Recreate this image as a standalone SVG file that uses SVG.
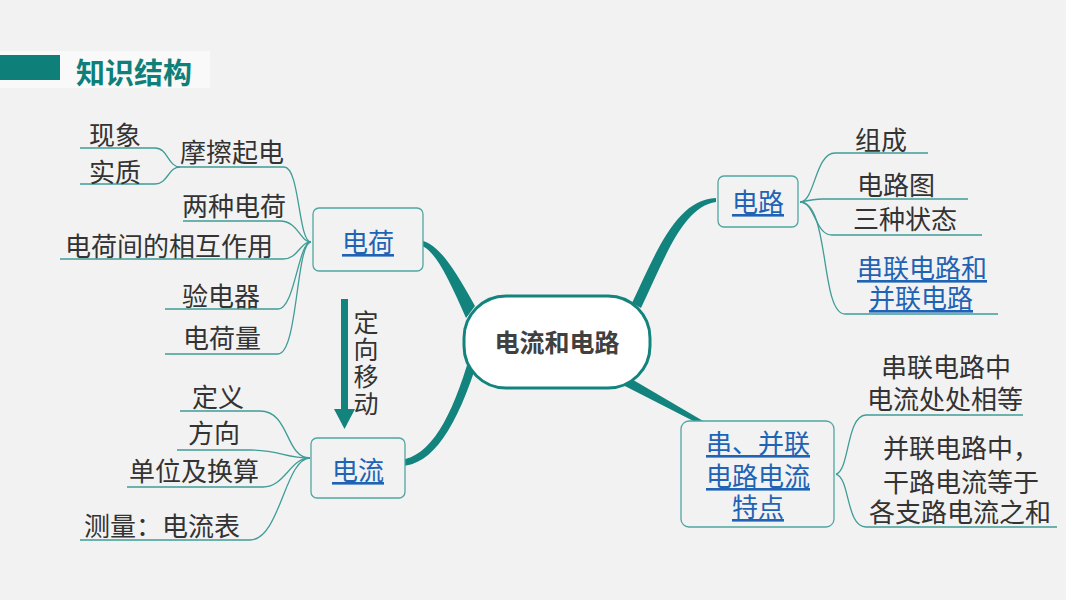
<svg xmlns="http://www.w3.org/2000/svg" width="1066" height="600" viewBox="0 0 1066 600">
<style>
.t{font-family:"Liberation Sans","Noto Sans CJK SC",sans-serif;font-size:26px;fill:#333333}
.lk{font-family:"Liberation Sans","Noto Sans CJK SC",sans-serif;font-size:26px;fill:#1f63b5;text-decoration:underline}
.box{fill:#f2f2f2;stroke:#4fa6a1;stroke-width:1.3}
.leaf{fill:none;stroke:#3f9c97;stroke-width:1.3}
.br{fill:#13837e;stroke:none}
</style>
<rect width="1066" height="600" fill="#f2f2f2"/>
<g id="title">
<rect x="0" y="51" width="210" height="37" fill="#f9f9f9"/>
<rect x="0" y="55" width="60" height="25" fill="#0f7f7a"/>
<text x="76" y="84" style="font-family:'Noto Sans CJK SC',sans-serif;font-size:29px;font-weight:bold;fill:#0f7f7a">知识结构</text>
</g>
<g id="connectors">
<path class="br" d="M417,240 C434,240 450,260 475,306 L466,318 C446,272 432,245 417,245 Z"/>
<path class="br" d="M400,460 C430,457 452,418 470,355 L478,360 C457,426 433,466 400,466 Z"/>
<path class="br" d="M632,303 C655,255 676,199 716,198 L716,202 C683,206 664,260 641,308 Z"/>
<path class="br" d="M623,374 L710,425 L709,429 L619,383 Z"/>
<circle class="br" cx="622" cy="379" r="5"/>
<path class="leaf" d="M80,148 L155,148 C168,148 168,167 180,167"/>
<path class="leaf" d="M80,184 L155,184 C168,184 168,167 180,167"/>
<path class="leaf" d="M180,167 L284,167 C300,167 298,242 311,242"/>
<path class="leaf" d="M183,221 L280,221 C298,221 300,242 311,242"/>
<path class="leaf" d="M60,259 L283,259 C298,259 300,242 311,242"/>
<path class="leaf" d="M165,309 L278,309 C295,309 298,242 311,242"/>
<path class="leaf" d="M165,354 L278,354 C298,354 296,242 311,242"/>
<path class="leaf" d="M180,411 L260,411 C290,411 285,458 310,458"/>
<path class="leaf" d="M177,450 L250,450 C280,450 285,458 310,458"/>
<path class="leaf" d="M127,487 L263,487 C285,487 290,458 310,458"/>
<path class="leaf" d="M80,540 L250,540 C280,540 285,458 310,458"/>
<path class="leaf" d="M800,202 C815,202 815,153 835,153 L928,153"/>
<path class="leaf" d="M800,202 C810,200 815,199 822,199 L968,199"/>
<path class="leaf" d="M800,202 C815,202 815,235 832,235 L982,235"/>
<path class="leaf" d="M800,202 C830,202 820,314 845,314 L998,314"/>
<path class="leaf" d="M836,474 C850,470 846,416 866,415 L1023,415"/>
<path class="leaf" d="M836,474 C850,478 846,527 866,527 L1057,527"/>
<rect x="341" y="299" width="7" height="112" fill="#13837e"/>
<polygon points="334,409 355,409 344.5,429" fill="#13837e"/>
</g>
<g id="center">
<rect x="464" y="296" width="186" height="92" rx="42" fill="#ffffff" stroke="#13837e" stroke-width="3"/>
<text x="557" y="352" text-anchor="middle" style="font-family:'Noto Sans CJK SC',sans-serif;font-size:25px;font-weight:bold;fill:#404040">电流和电路</text>
</g>
<g id="node-dianhe">
<rect class="box" x="313" y="208" width="110" height="63" rx="6"/>
<text class="lk" x="368" y="252" text-anchor="middle">电荷</text>
</g>
<g id="node-dianliu">
<rect class="box" x="311" y="438" width="94" height="60" rx="6"/>
<text class="lk" x="358" y="480" text-anchor="middle">电流</text>
</g>
<g id="node-dianlu">
<rect class="box" x="718" y="176" width="80" height="51" rx="6"/>
<text class="lk" x="758" y="212" text-anchor="middle">电路</text>
</g>
<g id="node-tedian">
<rect class="box" x="681" y="421" width="153" height="106" rx="8"/>
<text class="lk" text-anchor="middle"><tspan x="758" y="453">串、并联</tspan><tspan x="758" y="486">电路电流</tspan><tspan x="758" y="517">特点</tspan></text>
</g>
<g id="arrow-label">
<text x="366" y="310" style="font-family:'Noto Sans CJK SC',sans-serif;fill:#333333;font-size:25px;writing-mode:vertical-rl;letter-spacing:2px">定向移动</text>
</g>
<g id="leaves-dianhe">
<text class="t" x="89" y="145">现象</text>
<text class="t" x="89" y="182">实质</text>
<text class="t" x="180" y="162">摩擦起电</text>
<text class="t" x="182" y="216">两种电荷</text>
<text class="t" x="65" y="256">电荷间的相互作用</text>
<text class="t" x="182" y="306">验电器</text>
<text class="t" x="183" y="348">电荷量</text>
</g>
<g id="leaves-dianliu">
<text class="t" x="192" y="407">定义</text>
<text class="t" x="188" y="443">方向</text>
<text class="t" x="129" y="481">单位及换算</text>
<text class="t" x="84" y="536">测量：电流表</text>
</g>
<g id="leaves-dianlu">
<text class="t" x="855" y="150">组成</text>
<text class="t" x="857" y="195">电路图</text>
<text class="t" x="853" y="229">三种状态</text>
<text class="lk"><tspan x="857" y="278">串联电路和</tspan><tspan x="869" y="308">并联电路</tspan></text>
</g>
<g id="leaves-tedian">
<text class="t"><tspan x="881" y="377">串联电路中</tspan><tspan x="867" y="409">电流处处相等</tspan></text>
<text class="t"><tspan x="883" y="458">并联电路中，</tspan><tspan x="883" y="492">干路电流等于</tspan><tspan x="869" y="522">各支路电流之和</tspan></text>
</g>
</svg>
